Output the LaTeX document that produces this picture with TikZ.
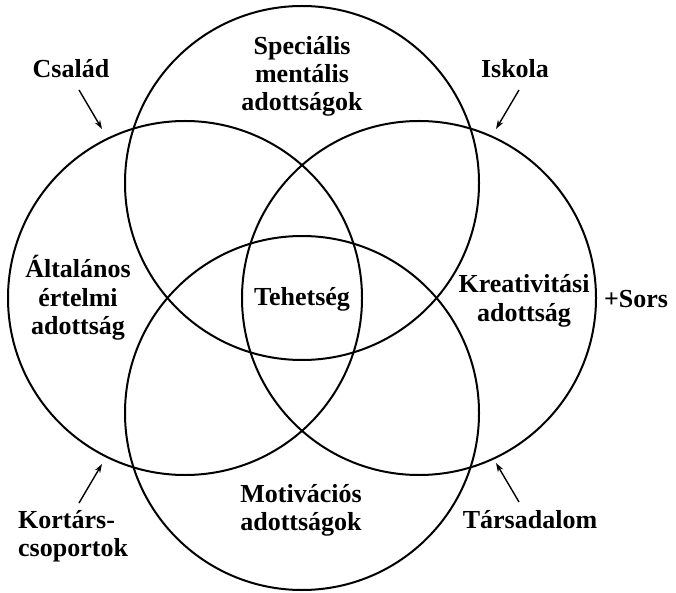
\documentclass[tikz,border=0pt]{standalone}
\usepackage{fontspec}
\setmainfont{Liberation Serif}
\usetikzlibrary{arrows.meta}
\begin{document}
\begin{tikzpicture}[x=1pt,y=1pt,
  ring/.style={circle, draw=black, line width=2pt, minimum size=354pt, inner sep=0pt},
  lbl/.style={inner sep=0pt, anchor=base, font=\fontsize{26}{28}\selectfont\bfseries},
  infl/.style={draw=black, line width=1.4pt, -{Stealth[length=9pt,width=6pt]}}]
\useasboundingbox (0,0) rectangle (676,592);
% circles
\node[ring] (ctop) at (302,409) {};
\node[ring] (cleft) at (185,294) {};
\node[ring] (cright) at (419,294) {};
\node[ring] (cbot) at (302,179) {};
% circle labels
\node[lbl] (spec) at (302,537) {\begin{tabular}[t]{@{}c@{}}Speciális\\mentális\\adottságok\end{tabular}};
\node[lbl] (alt) at (78,314) {\begin{tabular}[t]{@{}c@{}}Általános\\értelmi\\adottság\end{tabular}};
\node[lbl] (kre) at (524,299) {\begin{tabular}[t]{@{}c@{}}Kreativitási\\adottság\end{tabular}};
\node[lbl] (mot) at (301,90) {\begin{tabular}[t]{@{}c@{}}Motivációs\\adottságok\end{tabular}};
\node[lbl] (teh) at (302,287) {Tehetség};
% outside labels
\node[lbl] (csalad) at (71,514) {Család};
\node[lbl] (iskola) at (515,514) {Iskola};
\node[lbl] (sors) at (636,284) {+Sors};
\node[lbl, anchor=base west] (kort) at (18,64) {\begin{tabular}[t]{@{}l@{}}Kortárs-\\csoportok\end{tabular}};
\node[lbl] (tars) at (530,64) {Társadalom};
% arrow ends
\coordinate (csA) at (79,502);
\coordinate (csB) at (102,463);
\coordinate (isA) at (519,502);
\coordinate (isB) at (496,463);
\coordinate (koA) at (79,89);
\coordinate (koB) at (102,128);
\coordinate (taA) at (519,90);
\coordinate (taB) at (496,129);
\draw[infl] (csA) -- (csB);
\draw[infl] (isA) -- (isB);
\draw[infl] (koA) -- (koB);
\draw[infl] (taA) -- (taB);
\end{tikzpicture}
\end{document}
